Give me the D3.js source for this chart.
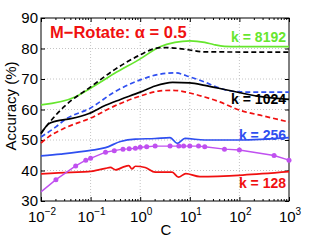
<!DOCTYPE html>
<html>
<head>
<meta charset="utf-8">
<script src="https://cdn.jsdelivr.net/npm/d3@7"></script>
<style>
  body { margin: 0; background: #fff; }
  svg { font-family: "Liberation Sans", Arial, sans-serif; }
</style>
</head>
<body>
<div class="container"></div>
<script>
// data (C on log axis, accuracy in %)
var greenC    = [0.01, 0.05, 0.1, 0.3, 1, 2.5, 5, 10, 20, 30, 50, 100, 1000];
var greenAcc  = [61.5, 64.2, 67, 71.8, 76.6, 80.6, 82, 82.5, 82, 81.3, 80.7, 80.6, 80.6];

var blackDashC   = [0.01, 0.02, 0.03, 0.1, 0.3, 1, 2, 3, 6, 10, 20, 1000];
var blackDashAcc = [52.3, 58.2, 61.1, 67.4, 73, 77.9, 80, 80.3, 80, 79.5, 78.9, 78.8];

var blueDashC   = [0.01, 0.02, 0.03, 0.1, 0.3, 1, 2.5, 5, 10, 20, 40, 80, 160, 1000];
var blueDashAcc = [51, 54.3, 56.6, 60.5, 65.7, 69.7, 71.6, 72, 70.7, 69, 67, 65.9, 65.7, 65.7];

var redDashC   = [0.01, 0.015, 0.03, 0.1, 0.3, 1, 2.5, 4.5, 10, 20, 40, 100, 300, 1000];
var redDashAcc = [49, 51.3, 53.9, 57.2, 61.1, 64.4, 66.1, 66.3, 65.4, 64.1, 62.5, 59.8, 57.9, 55.9];

var blackC   = [0.01, 0.014, 0.02, 0.04, 0.09, 0.2, 0.4, 1, 2, 4.5, 10, 20, 56, 250, 1000];
var blackAcc = [52, 55.2, 56.2, 57, 58.6, 61.4, 63.3, 65.7, 67.7, 68.9, 68.7, 67.9, 66.4, 64.3, 63.3];

var blueC   = [0.01, 0.025, 0.1, 0.2, 0.4, 0.8, 2, 4, 5.6, 8, 20, 100, 1000];
var blueAcc = [44.8, 45.4, 46.6, 47.5, 49.5, 50.3, 50.5, 50.8, 48.9, 50.5, 50, 50, 50.8];

var redC   = [0.01, 0.04, 0.09, 0.2, 0.25, 0.32, 0.45, 0.59, 0.68, 0.8, 1.26, 2, 4.4, 5.9, 8.3, 16, 117, 1000];
var redAcc = [38.9, 39.4, 39.6, 40.7, 41.0, 40.2, 41.1, 41.6, 40.5, 41.4, 41.0, 39.5, 39.5, 37.8, 39.0, 38.0, 38.5, 39.6];

var purpleC   = [0.01, 0.02, 0.05, 0.08, 0.1, 0.2, 0.3, 0.45, 0.6, 0.8, 1, 1.35, 2, 4, 6, 7.5, 10, 15, 20, 50, 100, 500, 1000];
var purpleAcc = [33.0, 37.0, 41.5, 43.4, 44.0, 46.0, 46.5, 47.0, 47.1, 47.3, 47.6, 47.8, 48.0, 48.0, 48.0, 48.0, 48.0, 48.0, 47.8, 47.0, 46.7, 44.9, 43.4];

var yTicks = [30, 40, 50, 60, 70, 80, 90];
var xTicks = [0.01, 0.1, 1, 10, 100, 1000];
var xTickExp = ["\u22122", "\u22121", "0", "1", "2", "3"];

var labels = [
  {text: "k = 8192", c: "#66e62e"},
  {text: "k = 1024", c: "#000000"},
  {text: "k = 256", c: "#2f4ff0"},
  {text: "k = 128", c: "#f01010"}
];

// svg size
var svgWidth = 319;
var svgHeight = 240;
var margin = {top: 18, right: 30, bottom: 39, left: 41};
var width = svgWidth - margin.left - margin.right;
var height = svgHeight - margin.top - margin.bottom;

var svg = d3.select(".container")
  .append("svg")
  .attr("width", svgWidth)
  .attr("height", svgHeight);

var chartGroup = svg.append("g")
  .attr("transform", `translate(${margin.left}, ${margin.top})`);

// scales
var xScale = d3.scaleLog().domain([0.01, 1000]).range([0, width]);
var yScale = d3.scaleLinear().domain([30, 90]).range([height, 0]);

// dotted grid
chartGroup.selectAll(".gx")
  .data(xTicks.slice(1, -1))
  .enter().append("line")
  .attr("x1", d => xScale(d)).attr("x2", d => xScale(d))
  .attr("y1", 0).attr("y2", height)
  .attr("stroke", "#c4c4c4").attr("stroke-width", 1)
  .attr("stroke-dasharray", "1,2");

chartGroup.selectAll(".gy")
  .data(yTicks.slice(1, -1))
  .enter().append("line")
  .attr("x1", 0).attr("x2", width)
  .attr("y1", d => yScale(d)).attr("y2", d => yScale(d))
  .attr("stroke", "#c4c4c4").attr("stroke-width", 1)
  .attr("stroke-dasharray", "1,2");

// axes with inward ticks
var minorTicks = [];
[0.01, 0.1, 1, 10, 100].forEach(function(dec) {
  for (var k = 2; k <= 9; k++) minorTicks.push(dec * k);
});

var bottomAxis = d3.axisBottom(xScale).tickValues(xTicks).tickSize(-4).tickFormat("");
var topAxis = d3.axisTop(xScale).tickValues(xTicks).tickSize(-4).tickFormat("");
var leftAxis = d3.axisLeft(yScale).tickValues(yTicks).tickSize(-4).tickPadding(3);
var rightAxis = d3.axisRight(yScale).tickValues(yTicks).tickSize(-4).tickFormat("");

var gb = chartGroup.append("g").attr("transform", `translate(0, ${height})`).call(bottomAxis);
var gt = chartGroup.append("g").call(topAxis);
var gl = chartGroup.append("g").call(leftAxis);
var gr = chartGroup.append("g").attr("transform", `translate(${width}, 0)`).call(rightAxis);

[gb, gt].forEach(function(g, i) {
  g.selectAll(".minor")
    .data(minorTicks)
    .enter().append("line")
    .attr("x1", d => xScale(d)).attr("x2", d => xScale(d))
    .attr("y1", 0).attr("y2", i === 0 ? -2 : 2)
    .attr("stroke", "#000");
});

[gb, gt, gl, gr].forEach(function(g) {
  g.select(".domain").remove();
  g.selectAll("line").attr("stroke", "#000");
});

gl.selectAll("text")
  .attr("font-size", 15)
  .attr("fill", "#000")
  .attr("font-family", "Liberation Sans, Arial, sans-serif");

// box
chartGroup.append("rect")
  .attr("width", width).attr("height", height)
  .attr("fill", "none").attr("stroke", "#000").attr("stroke-width", 1);

// x tick labels 10^n
var xl = chartGroup.selectAll(".xl")
  .data(xTicks)
  .enter().append("text")
  .attr("x", d => xScale(d) + 1)
  .attr("y", height + 21)
  .attr("text-anchor", "middle")
  .attr("font-size", 15);
xl.append("tspan").text("10");
xl.append("tspan")
  .attr("dy", -7)
  .attr("font-size", 10)
  .text((d, i) => xTickExp[i]);

// lines
var line = d3.line()
  .x(d => xScale(d[0]))
  .y(d => yScale(d[1]))
  .curve(d3.curveMonotoneX);

var series = [
  {c: greenC, a: greenAcc, color: "#66e62e", dash: null},
  {c: blackDashC, a: blackDashAcc, color: "#000000", dash: "5,3"},
  {c: blueDashC, a: blueDashAcc, color: "#2f4ff0", dash: "5,3"},
  {c: redDashC, a: redDashAcc, color: "#f01010", dash: "5,3"},
  {c: blackC, a: blackAcc, color: "#000000", dash: null},
  {c: blueC, a: blueAcc, color: "#2f4ff0", dash: null},
  {c: redC, a: redAcc, color: "#f01010", dash: null}
];

series.forEach(function(s) {
  var pts = s.c.map((c, i) => [c, s.a[i]]);
  chartGroup.append("path")
    .datum(pts)
    .attr("d", line)
    .attr("fill", "none")
    .attr("stroke", s.color)
    .attr("stroke-width", 1.7)
    .attr("stroke-dasharray", s.dash);
});

var purplePts = purpleC.map((c, i) => [c, purpleAcc[i]]);
chartGroup.append("path")
  .datum(purplePts)
  .attr("d", d3.line().x(d => xScale(d[0])).y(d => yScale(d[1])))
  .attr("fill", "none")
  .attr("stroke", "#c050f0")
  .attr("stroke-width", 1.4);

chartGroup.selectAll(".pm")
  .data(purplePts.slice(1))
  .enter().append("circle")
  .attr("cx", d => xScale(d[0]))
  .attr("cy", d => yScale(d[1]))
  .attr("r", 2.5)
  .attr("fill", "#c050f0");

// series labels
var labelY = [41.7, 104, 140, 188.3];
labels.forEach(function(l, i) {
  svg.append("text")
    .attr("x", 286)
    .attr("y", labelY[i])
    .attr("text-anchor", "end")
    .attr("font-size", 14)
    .attr("font-weight", "bold")
    .attr("fill", l.c)
    .text(l.text);
});

// title inside
svg.append("text")
  .attr("x", 50)
  .attr("y", 38)
  .attr("font-size", 16.5)
  .attr("font-weight", "bold")
  .attr("fill", "#f01010")
  .text("M\u2212Rotate: \u03b1 = 0.5");

// axis labels
svg.append("text")
  .attr("transform", "rotate(-90)")
  .attr("x", -106)
  .attr("y", 16)
  .attr("text-anchor", "middle")
  .attr("font-size", 15)
  .text("Accuracy (%)");

svg.append("text")
  .attr("x", 166)
  .attr("y", 235)
  .attr("text-anchor", "middle")
  .attr("font-size", 15)
  .text("C");
</script>
</body>
</html>
